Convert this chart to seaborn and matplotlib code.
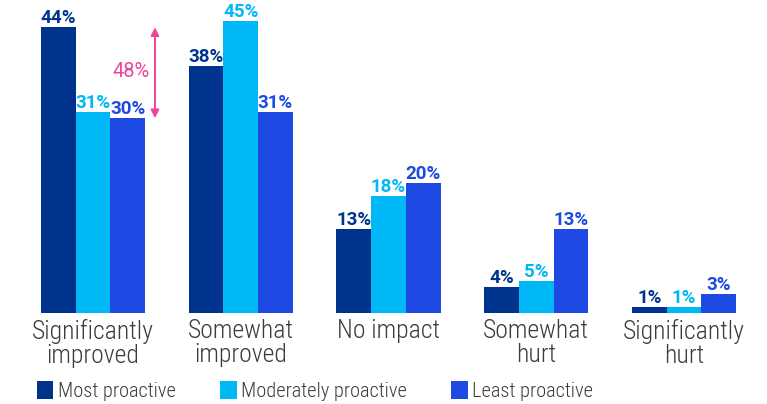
import matplotlib
matplotlib.use("Agg")
import matplotlib.pyplot as plt
from matplotlib.patches import Patch
import seaborn as sns
import pandas as pd

categories = ["Significantly\nimproved", "Somewhat\nimproved", "No impact",
              "Somewhat\nhurt", "Significantly\nhurt"]
groups = ["Most proactive", "Moderately proactive", "Least proactive"]
most = [44, 38, 13, 4, 1]
moderate = [31, 45, 18, 5, 1]
least = [30, 31, 20, 13, 3]
gap_label = "48%"

colors = ["#00338D", "#00B8F5", "#1E49E2"]
pink = "#F0449A"
grey = "#3C3C3C"
cond = ["Roboto Condensed", "DejaVu Sans"]

df = pd.DataFrame({
    "category": categories * 3,
    "group": [g for g in groups for _ in categories],
    "value": most + moderate + least,
})

sns.set_theme(style="white")
plt.rcParams["font.family"] = ["Roboto", "DejaVu Sans"]

fig = plt.figure(figsize=(7.67, 4.04), dpi=100)
ax = fig.add_axes([19 / 767, 1 - 313 / 404, 739 / 767, 313 / 404])

sns.barplot(data=df, x="category", y="value", hue="group", order=categories,
            hue_order=groups, palette=colors, width=0.705, saturation=1,
            linewidth=0, edgecolor="none", legend=False, ax=ax)

for container, col in zip(ax.containers, colors):
    labels = [f"{v:.0f}%" for v in container.datavalues]
    ax.bar_label(container, labels=labels, padding=0, color=col,
                 fontsize=13.5, fontweight="bold", family="Roboto")

ax.set_ylim(0, 48.2)
ax.set_xlim(-0.5, 4.5)
ax.set_xlabel("")
ax.set_ylabel("")
ax.set_yticks([])
ax.tick_params(axis="x", length=0, pad=4)
for lab in ax.get_xticklabels():
    lab.set_fontfamily(cond)
    lab.set_fontweight("light")
    lab.set_fontsize(18.5)
    lab.set_color(grey)
    lab.set_linespacing(1.0)
sns.despine(ax=ax, left=True, bottom=True, top=True, right=True)

# gap between the most and least proactive in the first category
x_arrow = 0.42
ax.annotate("", xy=(x_arrow, most[0]), xytext=(x_arrow, least[0]),
            arrowprops=dict(arrowstyle="<|-|>", color=pink, lw=1.4,
                            mutation_scale=12, shrinkA=0, shrinkB=0))
ax.text(0.385, (most[0] + least[0]) / 2 + 0.2, gap_label, color=pink,
        ha="right", va="center", fontsize=14.5, family="Roboto", fontweight="normal")

handles = [Patch(facecolor=c, edgecolor="none") for c in colors]
fig.legend(handles, groups, loc="center left", bbox_to_anchor=(37 / 767, 1 - 391 / 404),
           ncol=3, frameon=False, handlelength=0.8, handleheight=1.0,
           handletextpad=0.22, columnspacing=2.18, borderaxespad=0, borderpad=0,
           prop={"family": cond, "weight": "light", "size": 14.7}, labelcolor=grey)

fig.savefig("out.png", dpi=100)
